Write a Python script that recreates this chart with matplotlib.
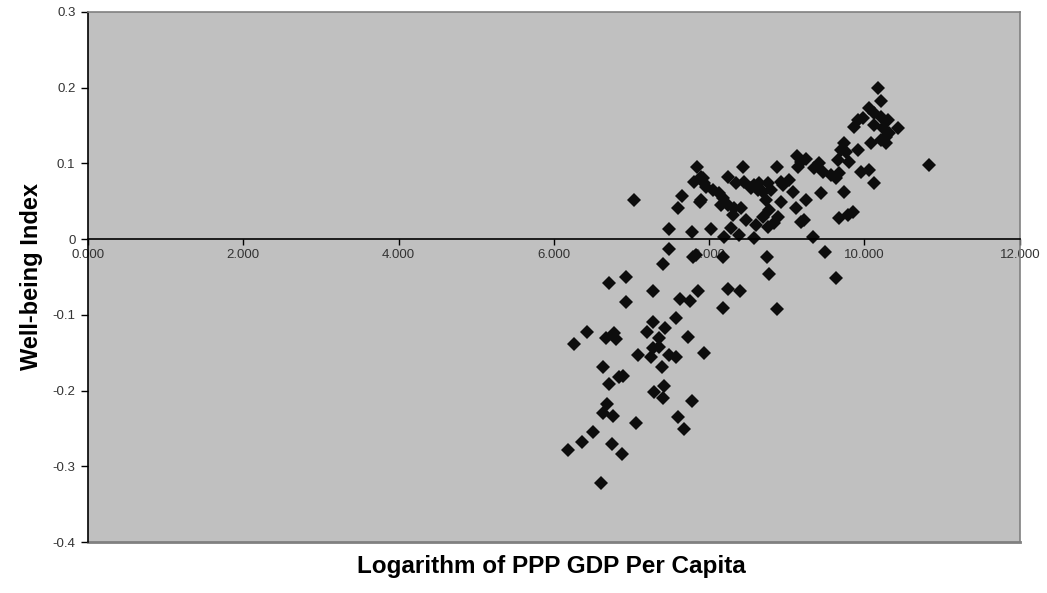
import matplotlib
matplotlib.use('Agg')
import matplotlib.pyplot as plt
from matplotlib.ticker import FixedLocator, FuncFormatter

plt.rcParams['font.family'] = ['Liberation Sans', 'DejaVu Sans']

# log of PPP GDP per capita (x) and well-being index (y)
log_gdp = [
    7.035, 7.486, 7.781, 8.026, 8.193, 8.386, 8.579, 8.283, 7.601, 7.653,
    7.884, 7.846, 7.807, 7.923, 7.961, 8.051, 8.129, 8.180, 8.154, 8.244,
    8.309, 8.412, 8.476, 8.244, 8.347, 8.437, 8.450, 8.540, 8.643, 8.695,
    8.733, 8.875, 8.605, 8.695, 8.772, 8.759, 8.836, 8.887, 8.926, 8.926,
    9.029, 8.952, 9.080, 9.119, 9.183, 9.338, 9.492, 9.132, 9.183, 9.248,
    9.145, 9.415, 9.350, 9.466, 9.569, 9.633, 9.672, 9.441, 9.248, 9.736,
    9.672, 9.788, 9.852, 9.659, 9.698, 9.736, 9.762, 9.801, 9.916, 9.865,
    9.916, 9.955, 10.058, 10.122, 10.084, 10.058, 10.122, 10.212, 10.302, 10.174,
    10.212, 10.122, 10.238, 10.277, 10.212, 10.315, 10.277, 10.431, 10.830, 7.897,
    7.936, 7.897, 8.322, 8.759, 8.797, 9.222, 8.579, 8.630, 9.981,
    7.486, 7.408, 7.794, 7.833, 8.180, 8.746, 8.772, 9.633, 6.932, 6.714,
    7.280, 7.859, 7.627, 7.756, 8.244, 8.399, 6.932, 8.180, 8.875, 7.576,
    7.280, 6.431, 6.675, 6.778, 6.804, 6.264, 7.203, 7.434, 7.730, 7.357,
    7.280, 7.357, 7.087, 7.254, 7.486, 7.576, 7.936, 6.637, 6.894, 6.842,
    6.714, 7.395, 7.421, 7.293, 7.408, 7.781, 6.688, 6.637, 6.765, 7.061,
    7.601, 7.678, 6.508, 6.367, 6.187, 6.752, 6.881, 6.611,
]
wellbeing = [
    0.051, 0.013, 0.009, 0.013, 0.003, 0.005, 0.001, 0.015, 0.041, 0.057,
    0.049, 0.095, 0.075, 0.080, 0.069, 0.065, 0.061, 0.054, 0.045, 0.045,
    0.032, 0.041, 0.025, 0.082, 0.074, 0.095, 0.075, 0.067, 0.074, 0.062,
    0.051, 0.095, 0.018, 0.029, 0.038, 0.016, 0.021, 0.029, 0.049, 0.075,
    0.078, 0.071, 0.062, 0.041, 0.022, 0.003, -0.017, 0.110, 0.102, 0.106,
    0.095, 0.100, 0.094, 0.088, 0.084, 0.080, 0.087, 0.061, 0.051, 0.062,
    0.028, 0.032, 0.036, 0.104, 0.117, 0.127, 0.115, 0.102, 0.117, 0.148,
    0.157, 0.088, 0.091, 0.074, 0.127, 0.173, 0.166, 0.161, 0.157, 0.199,
    0.182, 0.150, 0.146, 0.135, 0.131, 0.140, 0.127, 0.146, 0.098, 0.082,
    0.074, 0.051, 0.041, 0.074, 0.065, 0.025, 0.071, 0.065, 0.160,
    -0.013, -0.033, -0.024, -0.021, -0.024, -0.024, -0.046, -0.051, -0.050, -0.058,
    -0.069, -0.069, -0.079, -0.082, -0.066, -0.069, -0.083, -0.091, -0.092, -0.104,
    -0.109, -0.123, -0.131, -0.124, -0.132, -0.139, -0.123, -0.117, -0.129, -0.131,
    -0.144, -0.142, -0.153, -0.156, -0.153, -0.156, -0.150, -0.169, -0.181, -0.182,
    -0.191, -0.169, -0.194, -0.202, -0.210, -0.214, -0.218, -0.230, -0.234, -0.243,
    -0.235, -0.251, -0.255, -0.268, -0.278, -0.270, -0.284, -0.322,
]

x_ticks = [0, 2, 4, 6, 8, 10, 12]
y_ticks = [-0.4, -0.3, -0.2, -0.1, 0, 0.1, 0.2, 0.3]

fig = plt.figure(figsize=(10.47, 5.93), dpi=100)
ax = fig.add_axes([0.084, 0.086, 0.890, 0.894])
ax.set_facecolor('#c0c0c0')

ax.plot(log_gdp, wellbeing, linestyle='none', marker='D', markersize=7.2,
        color='#0d0d0d', markeredgewidth=0)

ax.set_xlim(0, 12)
ax.set_ylim(-0.4, 0.3)

# x axis crosses at zero like the original spreadsheet chart
ax.spines['bottom'].set_position(('data', 0))
ax.spines['bottom'].set_color('black')
ax.spines['bottom'].set_linewidth(1.2)
ax.spines['left'].set_color('black')
ax.spines['left'].set_linewidth(1.2)
for side in ['top', 'right']:
    ax.spines[side].set_color('#808080')
    ax.spines[side].set_linewidth(1.2)
ax.axhline(-0.4, color='#808080', linewidth=2.0, clip_on=False)

ax.xaxis.set_major_locator(FixedLocator(x_ticks))
ax.xaxis.set_major_formatter(FuncFormatter(lambda v, p: '%.3f' % v))
ax.yaxis.set_major_locator(FixedLocator(y_ticks))
ax.yaxis.set_major_formatter(FuncFormatter(lambda v, p: '0' if abs(v) < 1e-9 else ('%.1f' % v)))
ax.tick_params(axis='x', direction='out', length=4, width=1, pad=3,
               labelsize=9.5, labelcolor='#333333')
ax.tick_params(axis='y', direction='out', length=5, width=1, pad=4,
               labelsize=9.5, labelcolor='#333333')

ax.set_ylabel('Well-being Index', fontsize=17, fontweight='bold', labelpad=7)
fig.text(0.527, 0.044, 'Logarithm of PPP GDP Per Capita', fontsize=17.5,
         fontweight='bold', ha='center', va='center')

fig.savefig('out.png', dpi=100)
